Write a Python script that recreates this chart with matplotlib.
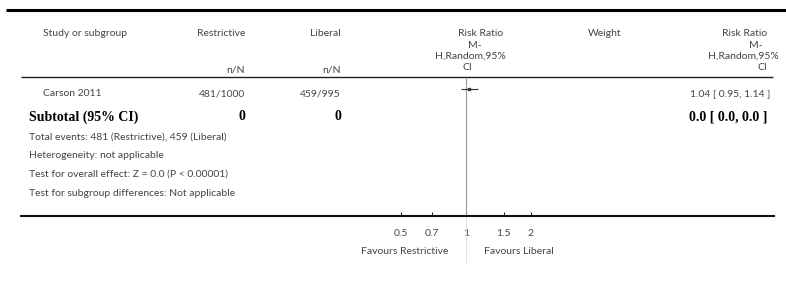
import numpy as np
import matplotlib.pyplot as plt

# data
studies = ['Carson 2011']
restrictive_nN = ['481/1000']
liberal_nN = ['459/995']
risk_ratio = [1.04]
ci_low = [0.95]
ci_high = [1.14]
subtotal_restrictive = '0'
subtotal_liberal = '0'
subtotal_rr = '0.0 [ 0.0, 0.0 ]'
footer_lines = ['Total events: 481 (Restrictive), 459 (Liberal)',
                'Heterogeneity: not applicable',
                'Test for overall effect: Z = 0.0 (P < 0.00001)',
                'Test for subgroup differences: Not applicable']
axis_ticks = [0.5, 0.7, 1, 1.5, 2]
axis_ticklabels = ['0.5', '0.7', '1', '1.5', '2']
favours_left = 'Favours Restrictive'
favours_right = 'Favours Liberal'

W, H = 786, 289
sans = 'Lato'
serif = 'Liberation Serif'
grey = '#444444'
fs = 7.5
bfs = 10

fig = plt.figure(figsize=(W / 100, H / 100), dpi=100)
bg = fig.add_axes([0, 0, 1, 1])
bg.set_xlim(0, W)
bg.set_ylim(H, 0)
bg.axis('off')

def txt(x, y, s, ha='left', **kw):
    kw.setdefault('fontsize', fs)
    kw.setdefault('family', sans)
    kw.setdefault('color', grey)
    bg.text(x, y, s, ha=ha, va='center', **kw)

# rules
bg.plot([6, W], [10, 10], color='black', lw=2.2, solid_capstyle='butt')
bg.plot([21, 773], [77, 77], color='#222222', lw=1.0, solid_capstyle='butt')

# header
txt(43, 34, 'Study or subgroup')
txt(245, 34, 'Restrictive', ha='right')
txt(341, 34, 'Liberal', ha='right')
txt(245, 70, 'n/N', ha='right')
txt(341, 70, 'n/N', ha='right')
txt(481, 34, 'Risk Ratio', ha='center')
txt(475, 45, 'M-', ha='center')
txt(470, 56, 'H,Random,95%', ha='center')
txt(467, 67, 'CI', ha='center')
txt(605, 34, 'Weight', ha='center')
txt(767, 34, 'Risk Ratio', ha='right')
txt(763, 45, 'M-', ha='right')
txt(779, 56, 'H,Random,95%', ha='right')
txt(767, 67, 'CI', ha='right')

# study rows
row_y = [94]
for i, s in enumerate(studies):
    y = row_y[i]
    txt(43, y, s)
    txt(245, y, restrictive_nN[i], ha='right')
    txt(341, y, liberal_nN[i], ha='right')
    txt(770, y, f'{risk_ratio[i]:.2f} [ {ci_low[i]:.2f}, {ci_high[i]:.2f} ]', ha='right')

# subtotal
bold = dict(family=serif, weight='bold', fontsize=bfs, color='black')
txt(29, 117, 'Subtotal (95% CI)', **bold)
txt(245, 117, subtotal_restrictive, ha='right', **bold)
txt(341, 117, subtotal_liberal, ha='right', **bold)
txt(767, 117, subtotal_rr, ha='right', **bold)

for k, line in enumerate(footer_lines):
    txt(29, 137 + k * 18.7, line)

# forest axes: log scale, 1 at x=465.7 px, 65 px per log(2)
x1, ppl = 465.7, 65 / np.log(2)
left, right, top, bottom = 21, 774, 77, 263
ax = fig.add_axes([left / W, 1 - bottom / H, (right - left) / W, (bottom - top) / H])
ax.set_xscale('log')
ax.set_xlim(np.exp((left - x1) / ppl), np.exp((right - x1) / ppl))
ax.set_ylim(bottom, top)
ax.patch.set_visible(False)
for sp in ['top', 'right', 'left']:
    ax.spines[sp].set_visible(False)
ax.spines['bottom'].set_position(('data', 216))
ax.spines['bottom'].set_linewidth(1.5)
ax.spines['bottom'].set_color('#111111')
ax.set_yticks([])
ax.set_xticks(axis_ticks)
ax.set_xticklabels(axis_ticklabels)
ax.minorticks_off()
ax.tick_params(axis='x', direction='in', length=3, width=0.8, pad=9,
               labelsize=fs, colors='#222222')
for lab in ax.get_xticklabels():
    lab.set_family(sans)
    lab.set_color(grey)

ax.vlines(1, top + 1, 216, color='#999999', lw=0.8)
ax.vlines(1, 216, bottom, color='#e0e0e0', lw=0.8)

ci_y = [89]
for i in range(len(studies)):
    ax.hlines(ci_y[i], ci_low[i], ci_high[i], color='#333333', lw=0.8)
    ax.plot(risk_ratio[i], ci_y[i], marker='s', ms=1.6, color='#333333')

txt(448, 251, favours_left, ha='right')
txt(484, 251, favours_right, ha='left')

fig.savefig('out.png', dpi=100)
